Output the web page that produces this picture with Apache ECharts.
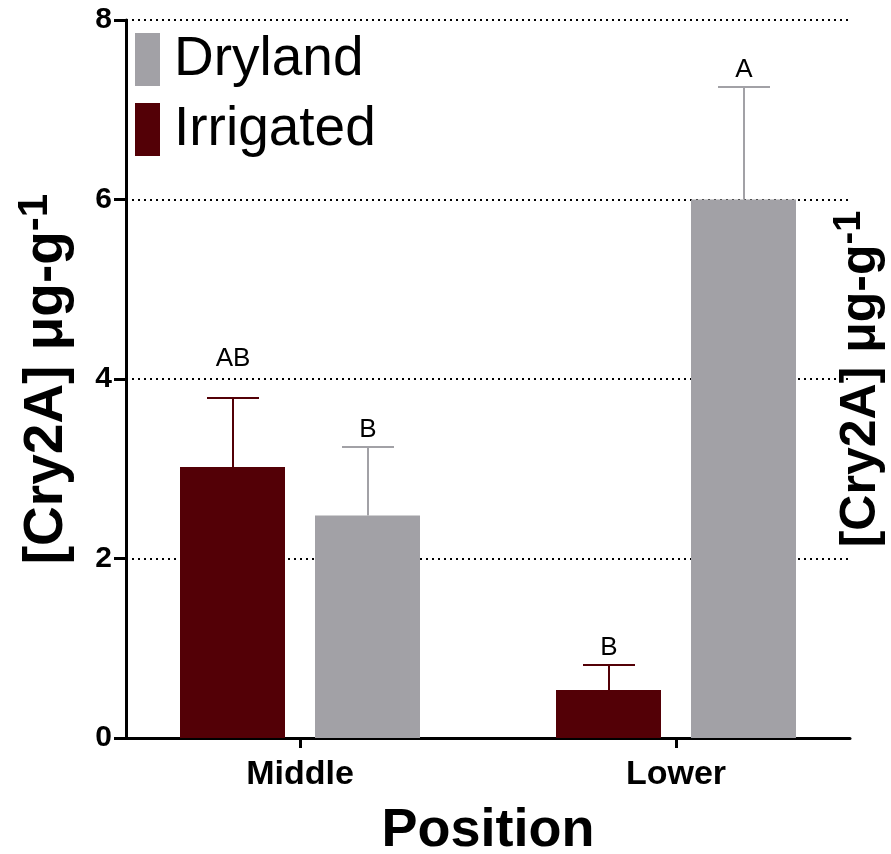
<!DOCTYPE html>
<html>
<head>
<meta charset="utf-8">
<title>Cry2A concentration by position</title>
<script src="https://cdn.jsdelivr.net/npm/echarts@6/dist/echarts.min.js"></script>
<style>
  html, body { margin: 0; padding: 0; background: #fff; }
  #chart { width: 891px; height: 854px; }
</style>
</head>
<body>
<div id="chart"></div>
<script>
// Cry2A concentration (µg/g) at two plant positions, irrigated vs dryland
const categories = ['Middle', 'Lower'];
const irrigated = [3.02, 0.535];
const irrigatedErr = [0.77, 0.28];
const dryland = [2.48, 6.0];
const drylandErr = [0.76, 1.25];
const irrigatedLetters = ['AB', 'B'];
const drylandLetters = ['B', 'A'];
const yTicks = [0, 2, 4, 6, 8];

const FONT = "'Liberation Sans', Arial, Helvetica, sans-serif";
const IRRIGATED_COLOR = '#530006';
const DRYLAND_COLOR = '#a2a1a6';
const BAR_W = 105;
const BAR_GAP = 30;
const CAP_W = 52;

// letters sit just above the error caps; "AB" is lifted clear of the gridline
function letterLift(letter) {
  return letter === 'AB' ? 26 : 4;
}

function errorBars(name, values, errs, letters, color, shift) {
  return {
    type: 'custom',
    name: name + ' SEM',
    xAxisIndex: 0,
    yAxisIndex: 0,
    z: 5,
    silent: true,
    data: values.map((v, i) => [i, v, errs[i]]),
    renderItem(params, api) {
      const i = api.value(0);
      const v = api.value(1);
      const e = api.value(2);
      const base = api.coord([i, v]);
      const top = api.coord([i, v + e]);
      const x = Math.round(base[0] + shift);
      const yTop = Math.round(top[1]);
      const letter = letters[params.dataIndex];
      return {
        type: 'group',
        children: [
          { type: 'line', shape: { x1: x, y1: base[1], x2: x, y2: yTop }, style: { stroke: color, lineWidth: 2 } },
          { type: 'line', shape: { x1: x - CAP_W / 2, y1: yTop, x2: x + CAP_W / 2, y2: yTop }, style: { stroke: color, lineWidth: 2 } },
          {
            type: 'text',
            style: {
              text: letter, x: x, y: yTop - letterLift(letter),
              align: 'center', verticalAlign: 'bottom',
              fontFamily: FONT, fontSize: 26, fill: '#000'
            }
          }
        ]
      };
    }
  };
}

const yName = '{a|[Cry2A] μg-g}{s|-1}';

const chart = echarts.init(document.getElementById('chart'), null, { renderer: 'canvas' });

chart.setOption({
  animation: false,
  backgroundColor: '#fff',
  textStyle: { fontFamily: FONT },
  grid: [
    // bar layout grid (category centres at the tick marks)
    { left: 112, right: 27, top: 20, bottom: 116, outerBoundsMode: 'none' },
    // visible axes frame
    { left: 126, right: 41, top: 20, bottom: 116, outerBoundsMode: 'none' }
  ],
  legend: {
    data: ['Dryland', 'Irrigated'],
    orient: 'vertical',
    left: 135,
    top: 32,
    padding: 0,
    itemWidth: 25,
    itemHeight: 53,
    itemGap: 15,
    icon: 'rect',
    selectedMode: false,
    textStyle: { fontFamily: FONT, fontSize: 55, color: '#000', lineHeight: 53, padding: [0, 0, 0, 9] }
  },
  xAxis: [
    {
      type: 'category',
      gridIndex: 0,
      data: categories,
      axisLine: { show: false },
      axisTick: { show: true, alignWithLabel: true, length: 10, lineStyle: { color: '#000', width: 3 } },
      axisLabel: { fontFamily: FONT, fontSize: 34, fontWeight: 'bold', color: '#000', margin: 20 },
      splitLine: { show: false }
    },
    {
      type: 'value',
      gridIndex: 1,
      min: 0,
      max: 1,
      axisLine: { show: true, lineStyle: { color: '#000', width: 3 } },
      axisTick: { show: false },
      axisLabel: { show: false },
      splitLine: { show: false },
      name: 'Position',
      nameLocation: 'middle',
      nameGap: 66,
      nameTextStyle: { fontFamily: FONT, fontSize: 54, fontWeight: 'bold', color: '#000' }
    }
  ],
  yAxis: [
    {
      type: 'value',
      gridIndex: 0,
      min: yTicks[0],
      max: yTicks[yTicks.length - 1],
      interval: yTicks[1] - yTicks[0],
      show: false
    },
    {
      type: 'value',
      gridIndex: 1,
      position: 'left',
      min: yTicks[0],
      max: yTicks[yTicks.length - 1],
      interval: yTicks[1] - yTicks[0],
      axisLine: { show: true, lineStyle: { color: '#000', width: 3 } },
      axisTick: { show: true, length: 12, lineStyle: { color: '#000', width: 3 } },
      axisLabel: { fontFamily: FONT, fontSize: 30, fontWeight: 'bold', color: '#000', margin: 14 },
      splitLine: { show: true, lineStyle: { color: '#000', width: 2, type: [2, 4] } },
      name: yName,
      nameLocation: 'middle',
      nameRotate: 90,
      nameGap: 46,
      nameTextStyle: {
        rich: {
          a: { fontFamily: FONT, fontSize: 55, fontWeight: 'bold', color: '#000', lineHeight: 66 },
          s: { fontFamily: FONT, fontSize: 42, fontWeight: 'bold', color: '#000', lineHeight: 20, verticalAlign: 'top' }
        }
      }
    },
    {
      type: 'value',
      gridIndex: 1,
      position: 'right',
      min: yTicks[0],
      max: yTicks[yTicks.length - 1],
      interval: yTicks[1] - yTicks[0],
      axisLine: { show: false },
      axisTick: { show: false },
      axisLabel: { show: false },
      splitLine: { show: false },
      name: yName,
      nameLocation: 'middle',
      nameRotate: 90,
      nameGap: -19,
      nameTextStyle: {
        rich: {
          a: { fontFamily: FONT, fontSize: 50, fontWeight: 'bold', color: '#000', lineHeight: 60 },
          s: { fontFamily: FONT, fontSize: 38, fontWeight: 'bold', color: '#000', lineHeight: 18, verticalAlign: 'top' }
        }
      }
    }
  ],
  series: [
    {
      name: 'Irrigated',
      type: 'bar',
      xAxisIndex: 0,
      yAxisIndex: 0,
      data: irrigated,
      barWidth: BAR_W,
      barGap: (BAR_GAP / BAR_W * 100).toFixed(2) + '%',
      itemStyle: { color: IRRIGATED_COLOR },
      z: 3
    },
    {
      name: 'Dryland',
      type: 'bar',
      xAxisIndex: 0,
      yAxisIndex: 0,
      data: dryland,
      barWidth: BAR_W,
      barGap: (BAR_GAP / BAR_W * 100).toFixed(2) + '%',
      itemStyle: { color: DRYLAND_COLOR },
      z: 3
    },
    errorBars('Irrigated', irrigated, irrigatedErr, irrigatedLetters, IRRIGATED_COLOR, -(BAR_W + BAR_GAP) / 2),
    errorBars('Dryland', dryland, drylandErr, drylandLetters, DRYLAND_COLOR, (BAR_W + BAR_GAP) / 2)
  ]
});
</script>
</body>
</html>
